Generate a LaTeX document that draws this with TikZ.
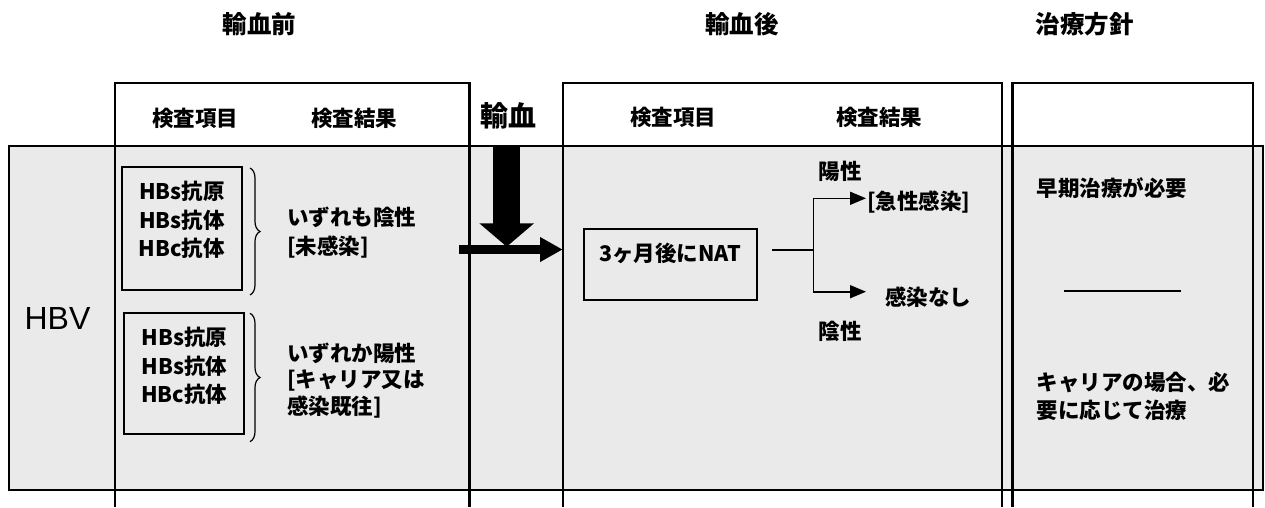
\documentclass[tikz,border=0pt]{standalone}
\usepackage{fontspec}
\setmainfont{Noto Sans CJK JP}
\newfontfamily\hbvfont{Liberation Sans}
\usetikzlibrary{arrows.meta,decorations.pathreplacing}
\definecolor{bandgray}{RGB}{234,234,234}
\begin{document}
\begin{tikzpicture}[x=1pt,y=-1pt,
  frame/.style={line width=2.1pt},
  thinline/.style={line width=1.6pt},
  body/.style={inner sep=0pt, font=\fontsize{21.5}{21.5}\selectfont\bfseries},
  hdr/.style={inner sep=0pt, font=\fontsize{21.5}{21.5}\selectfont\bfseries},
  ttl/.style={inner sep=0pt, font=\fontsize{24.5}{24.5}\selectfont\bfseries},
  bigtxt/.style={inner sep=0pt, font=\fontsize{28}{28}\selectfont\bfseries},
  hbvstyle/.style={inner sep=0pt, font=\fontsize{32}{32}\selectfont\hbvfont},
  boxn/.style={draw, line width=1.9pt, inner sep=0pt},
  listtxt/.style={inner sep=0pt, align=center, font=\fontsize{21.5}{28.5}\selectfont\bfseries},
  bracestyle/.style={line width=1.2pt, decorate, decoration={brace, amplitude=10pt}},
  smallarrow/.style={thinline, -{Triangle[length=16pt,width=13pt]}}
]
\useasboundingbox (0,0) rectangle (1265,507);

% shaded band
\fill[bandgray] (9,146) rectangle (1263,490);
\draw[frame] (9,146) rectangle (1263,490);

% column frames (open at the bottom)
\draw[frame] (115,507) -- (115,82.7) -- (469.5,82.7) -- (469.5,507);
\draw[frame] (563.3,507) -- (563.3,82.7) -- (1002,82.7) -- (1002,507);
\draw[frame] (1012.5,507) -- (1012.5,82.7) -- (1253.3,82.7) -- (1253.3,507);

% titles
\node[ttl] (t1) at (259.5,24.5) {輸血前};
\node[ttl] (t2) at (742,24.5) {輸血後};
\node[ttl] (t3) at (1084.5,24.5) {治療方針};

% headers
\node[hdr] (h1) at (195,118) {検査項目};
\node[hdr] (h2) at (354,118) {検査結果};
\node[hdr] (h3) at (673,117) {検査項目};
\node[hdr] (h4) at (879,117) {検査結果};
\node[bigtxt] (yk) at (508.5,115.5) {輸血};

% row label
\node[hbvstyle] (hbv) at (57.5,318) {HBV};

% before transfusion: test items
\node[boxn, minimum width=120.3pt, minimum height=123.3pt] (boxA) at (181.85,228.35) {};
\node[listtxt] (listA) at (181.85,220) {HBs抗原\\HBs抗体\\HBc抗体};
\node[boxn, minimum width=120pt, minimum height=120.7pt] (boxB) at (184.3,373.65) {};
\node[listtxt] (listB) at (184.3,366) {HBs抗原\\HBs抗体\\HBc抗体};

% braces
\coordinate (bAt) at (250,168);
\coordinate (bAb) at (250,295);
\coordinate (bBt) at (250,313.3);
\coordinate (bBb) at (250,441.7);
\draw[bracestyle] (bAt) -- (bAb);
\draw[bracestyle] (bBt) -- (bBb);

% results
\node[body, anchor=west] (rA1) at (287,217.5) {いずれも陰性};
\node[body, anchor=west] (rA2) at (287,247.5) {[未感染]};
\node[body, anchor=west] (rB1) at (287,353.3) {いずれか陽性};
\node[body, anchor=west] (rB2) at (287,380) {[キャリア又は};
\node[body, anchor=west] (rB3) at (287,406.7) {感染既往]};

% transfusion arrows
\coordinate (dtop) at (506.7,145);
\coordinate (dtip) at (506.7,246.7);
\coordinate (hstart) at (459.3,249.5);
\coordinate (htip) at (562.7,249.5);
\draw[line width=26.7pt, -{Triangle[length=23.4pt,width=53.4pt]}] (dtop) -- (dtip);
\draw[line width=9pt, -{Triangle[length=22.7pt,width=23.4pt]}] (hstart) -- (htip);

% after transfusion
\node[boxn, minimum width=172.7pt, minimum height=70.7pt] (natbox) at (670.35,264.65) {};
\node[body] (nat) at (670,253.3) {3ヶ月後にNAT};

\coordinate (ls) at (772.3,250);
\coordinate (j) at (813.3,250);
\coordinate (up) at (866,198.3);
\coordinate (dn) at (866,291.7);
\draw[thinline] (ls) -- (j);
\draw[smallarrow] (j) |- (up);
\draw[smallarrow] (j) |- (dn);

\node[body] (pos) at (840,171.7) {陽性};
\node[body, anchor=west] (acute) at (867,201.7) {[急性感染]};
\node[body, anchor=west] (none) at (885,296.7) {感染なし};
\node[body] (neg) at (840,331.7) {陰性};

% treatment
\node[body, anchor=west] (tr1) at (1036.7,188.3) {早期治療が必要};
\coordinate (dl) at (1064,290.7);
\coordinate (dr) at (1180.7,290.7);
\draw[thinline] (dl) -- (dr);
\node[body, anchor=west] (tr2) at (1036.7,382.3) {キャリアの場合、必};
\node[body, anchor=west] (tr3) at (1036.7,410) {要に応じて治療};
\end{tikzpicture}
\end{document}
